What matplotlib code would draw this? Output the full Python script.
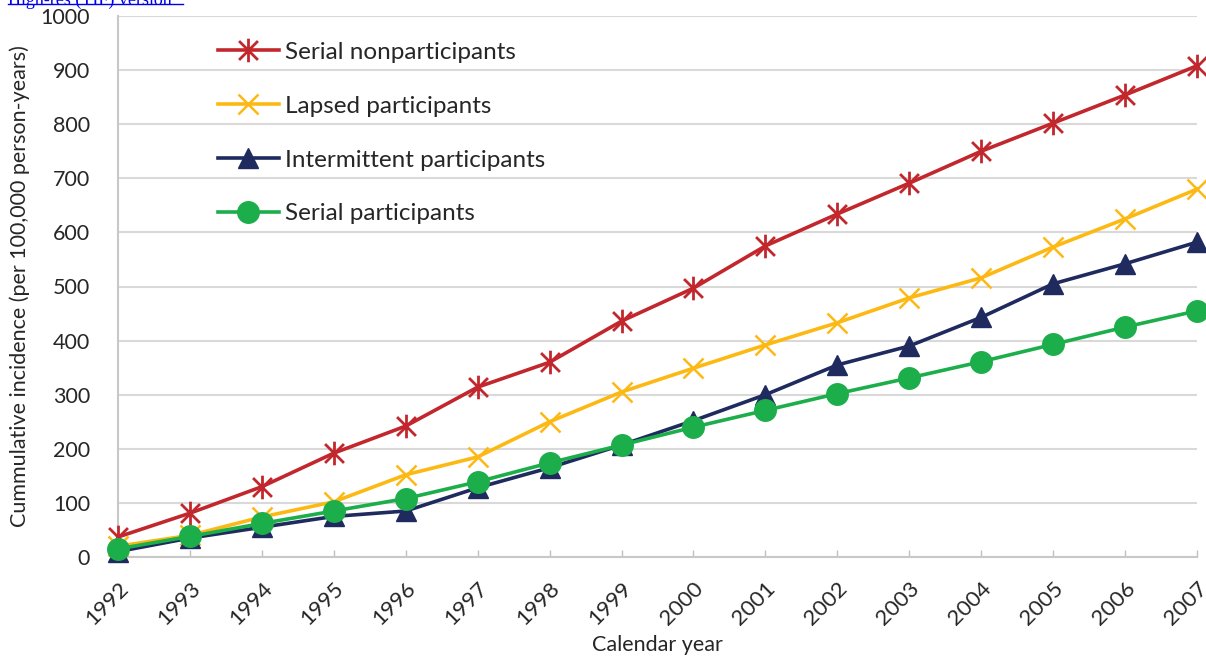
import matplotlib.pyplot as plt
import numpy as np
from matplotlib.path import Path
from matplotlib.lines import Line2D

plt.rcParams['font.family'] = ['Lato', 'DejaVu Sans']

years = list(range(1992, 2008))
serial_non = [37, 81, 130, 192, 242, 314, 360, 436, 497, 575, 634, 691, 750, 802, 854, 908]
lapsed = [20, 40, 74, 102, 152, 185, 250, 305, 349, 392, 433, 479, 516, 573, 625, 680]
intermittent = [10, 35, 55, 75, 85, 128, 165, 207, 252, 300, 355, 390, 443, 505, 542, 582]
serial_part = [15, 38, 62, 85, 108, 139, 174, 207, 240, 271, 302, 331, 361, 393, 425, 455]

names = ['Serial nonparticipants', 'Lapsed participants',
         'Intermittent participants', 'Serial participants']
colors = ['#C1272D', '#FDB913', '#1F2A5E', '#1CAE4A']

# asterisk marker: vertical bar + x
ast = Path([(0, -1), (0, 1), (-0.8, -0.8), (0.8, 0.8), (-0.8, 0.8), (0.8, -0.8)],
           [Path.MOVETO, Path.LINETO, Path.MOVETO, Path.LINETO, Path.MOVETO, Path.LINETO])

fig = plt.figure(figsize=(12.06, 6.58), dpi=100)
ax = fig.add_axes([118/1206, 1-557/658, (1197-118)/1206, (557-16)/658])

txt = '#262626'
ax.plot(years, serial_non, color=colors[0], lw=2.6, marker=ast, ms=17, mew=2,
        mfc='none', clip_on=False, zorder=3, label=names[0])
ax.plot(years, lapsed, color=colors[1], lw=2.6, marker='x', ms=15, mew=1.8,
        clip_on=False, zorder=3, label=names[1])
ax.plot(years, intermittent, color=colors[2], lw=2.6, marker='^', ms=15,
        clip_on=False, zorder=4, label=names[2])
ax.plot(years, serial_part, color=colors[3], lw=2.6, marker='o', ms=15.5,
        clip_on=False, zorder=5, label=names[3])

ax.set_xlim(1992, 2007)
ax.set_ylim(0, 1000)
ax.set_yticks(np.arange(0, 1001, 100))
ax.set_xticks(years)
ax.set_xticklabels([str(y) for y in years], rotation=45, ha='right',
                   rotation_mode='anchor', fontsize=16, color=txt)
ax.tick_params(axis='y', length=0, labelsize=15.5, labelcolor=txt, pad=20)
ax.tick_params(axis='x', direction='in', length=5, color='#BFBFBF', width=1, pad=15)
ax.grid(axis='y', color='#D9D9D9', lw=1.5)
ax.set_axisbelow(True)
for s in ['top', 'right']:
    ax.spines[s].set_visible(False)
ax.spines['left'].set_color('#C8C8C8')
ax.spines['bottom'].set_color('#C8C8C8')
ax.spines['left'].set_linewidth(1.5)
ax.spines['bottom'].set_linewidth(1.5)

ax.set_xlabel('Calendar year', fontsize=15.5, color=txt, labelpad=5)
ax.set_ylabel('Cummulative incidence (per 100,000 person-years)', fontsize=15.5,
              color=txt, labelpad=8)

leg = ax.legend(loc='upper left', bbox_to_anchor=(0.0927, 0.952), frameon=False,
                fontsize=17.5, labelspacing=1.35, handlelength=2.5,
                handletextpad=0.25, borderpad=0, borderaxespad=0, labelcolor=txt)

fig.text(8/1206, 1.0, 'High-res (TIF) version', color='#0000EE', fontsize=13,
         family='Liberation Serif', va='center', ha='left')
fig.add_artist(Line2D([8/1206, 183/1206], [1-4/658, 1-4/658], color='#0000EE', lw=1))

fig.savefig('out.png', dpi=100)
